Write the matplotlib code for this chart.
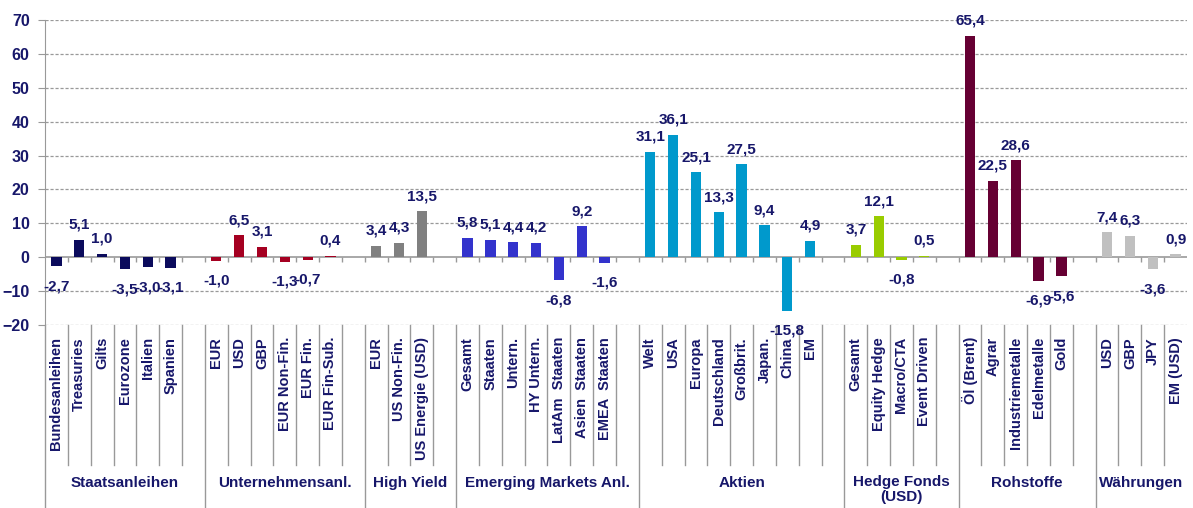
import matplotlib
matplotlib.use("Agg")
import matplotlib.pyplot as plt

plt.rcParams['font.family'] = ['Liberation Sans', 'DejaVu Sans']

# ---- data ----
group_names = ["Staatsanleihen", "Unternehmensanl.", "High Yield", "Emerging Markets Anl.",
               "Aktien", "Hedge Fonds\n(USD)", "Rohstoffe", "Währungen"]

staats_labels = ["Bundesanleihen", "Treasuries", "Gilts", "Eurozone", "Italien", "Spanien"]
staats_values = [-2.7, 5.1, 1.0, -3.5, -3.0, -3.1]

untern_labels = ["EUR", "USD", "GBP", "EUR Non-Fin.", "EUR Fin.", "EUR Fin-Sub."]
untern_values = [-1.0, 6.5, 3.1, -1.3, -0.7, 0.4]

hy_labels = ["EUR", "US Non-Fin.", "US Energie (USD)"]
hy_values = [3.4, 4.3, 13.5]

em_labels = ["Gesamt", "Staaten", "Untern.", "HY Untern.", "LatAm  Staaten", "Asien  Staaten", "EMEA  Staaten"]
em_values = [5.8, 5.1, 4.4, 4.2, -6.8, 9.2, -1.6]

aktien_labels = ["Welt", "USA", "Europa", "Deutschland", "Großbrit.", "Japan.", "China", "EM"]
aktien_values = [31.1, 36.1, 25.1, 13.3, 27.5, 9.4, -15.8, 4.9]

hedge_labels = ["Gesamt", "Equity Hedge", "Macro/CTA", "Event Driven"]
hedge_values = [3.7, 12.1, -0.8, 0.5]

roh_labels = ["Öl (Brent)", "Agrar", "Industriemetalle", "Edelmetalle", "Gold"]
roh_values = [65.4, 22.5, 28.6, -6.9, -5.6]

fx_labels = ["USD", "GBP", "JPY", "EM (USD)"]
fx_values = [7.4, 6.3, -3.6, 0.9]

group_colors = ["#0B0B5C", "#A50021", "#808080", "#3333CC",
                "#0099CC", "#99CC00", "#660033", "#C0C0C0"]

groups = [
    (staats_labels, staats_values),
    (untern_labels, untern_values),
    (hy_labels, hy_values),
    (em_labels, em_values),
    (aktien_labels, aktien_values),
    (hedge_labels, hedge_values),
    (roh_labels, roh_values),
    (fx_labels, fx_values),
]

# ---- styling ----
TXT = "#17176A"
GRID = "#999999"
FS = 11

W, H = 1193, 508
fig = plt.figure(figsize=(W / 100, H / 100), dpi=100)
ax_left, ax_right, ax_top, ax_bottom = 45, 1187, 20, 325
ax = fig.add_axes([ax_left / W, (H - ax_bottom) / H,
                   (ax_right - ax_left) / W, (ax_bottom - ax_top) / H])

# slot layout: each group followed by an empty slot (except the last)
xs, vals, cols, labs = [], [], [], []
group_bounds = []
slot = 0
for gi, (labels, values) in enumerate(groups):
    start = slot
    for lab, v in zip(labels, values):
        xs.append(slot + 0.5)
        vals.append(v)
        cols.append(group_colors[gi])
        labs.append(lab)
        slot += 1
    if gi < len(groups) - 1:
        slot += 1
    group_bounds.append((start, slot))
n_slots = slot

ax.set_xlim(0, n_slots)
ax.set_ylim(-20, 70)

ax.bar(xs, vals, width=0.45, color=cols, zorder=3)

# gridlines
for yv in range(-20, 71, 10):
    if yv == 0:
        ax.axhline(0, color=GRID, lw=1.2, zorder=2)
    else:
        ax.axhline(yv, color=GRID, lw=0.9, ls=(0, (2.5, 1.5)), zorder=1)

# zero-line ticks at slot boundaries
ax.vlines(range(1, n_slots), -1.4, 0, color=GRID, lw=1, zorder=2)

for s in ["top", "right", "bottom"]:
    ax.spines[s].set_visible(False)
ax.spines["left"].set_color(GRID)
ax.set_xticks([])
ax.set_yticks(range(-20, 71, 10))
ax.tick_params(axis="y", length=5, color=GRID, labelcolor=TXT, labelsize=FS + 0.5, pad=6)
for t in ax.get_yticklabels():
    t.set_fontweight("bold")

# data labels
for x, v in zip(xs, vals):
    txt = f"{v:.1f}".replace(".", ",")
    off = 15 if v >= 0 else -20
    ax.annotate(txt, (x, v), xytext=(0, off), textcoords="offset pixels",
                ha="center", va="center", fontsize=FS, fontweight="bold",
                color=TXT, zorder=4, annotation_clip=False)

# category axis below the plot
tr = ax.get_xaxis_transform()
px = ax_bottom - ax_top
inner_end = -(465 - ax_bottom) / px
outer_end = -(H - ax_bottom) / px
label_top = -(337 - ax_bottom) / px
group_y = -(483 - ax_bottom) / px
group_y_multi = -(475 - ax_bottom) / px

# left spine extension
ax.plot([0, 0], [0, outer_end], transform=tr, color=GRID, lw=1, clip_on=False)

for gi, (start, end) in enumerate(group_bounds):
    for b in range(start + 1, end):
        ax.plot([b, b], [0, inner_end], transform=tr, color=GRID, lw=1, clip_on=False)
    if gi < len(group_bounds) - 1:
        ax.plot([end, end], [0, outer_end], transform=tr, color=GRID, lw=1, clip_on=False)
    gname = group_names[gi]
    multi = "\n" in gname
    ax.text((start + end) / 2, group_y_multi if multi else group_y, gname, transform=tr,
            ha="center", va="top" if multi else "center",
            fontsize=FS, fontweight="bold", color=TXT, linespacing=1.05)

for x, lab in zip(xs, labs):
    ax.text(x, label_top, lab, transform=tr, rotation=90, ha="center", va="top",
            fontsize=FS - 0.5, fontweight="bold", color=TXT)

fig.savefig("out.png", dpi=100)
